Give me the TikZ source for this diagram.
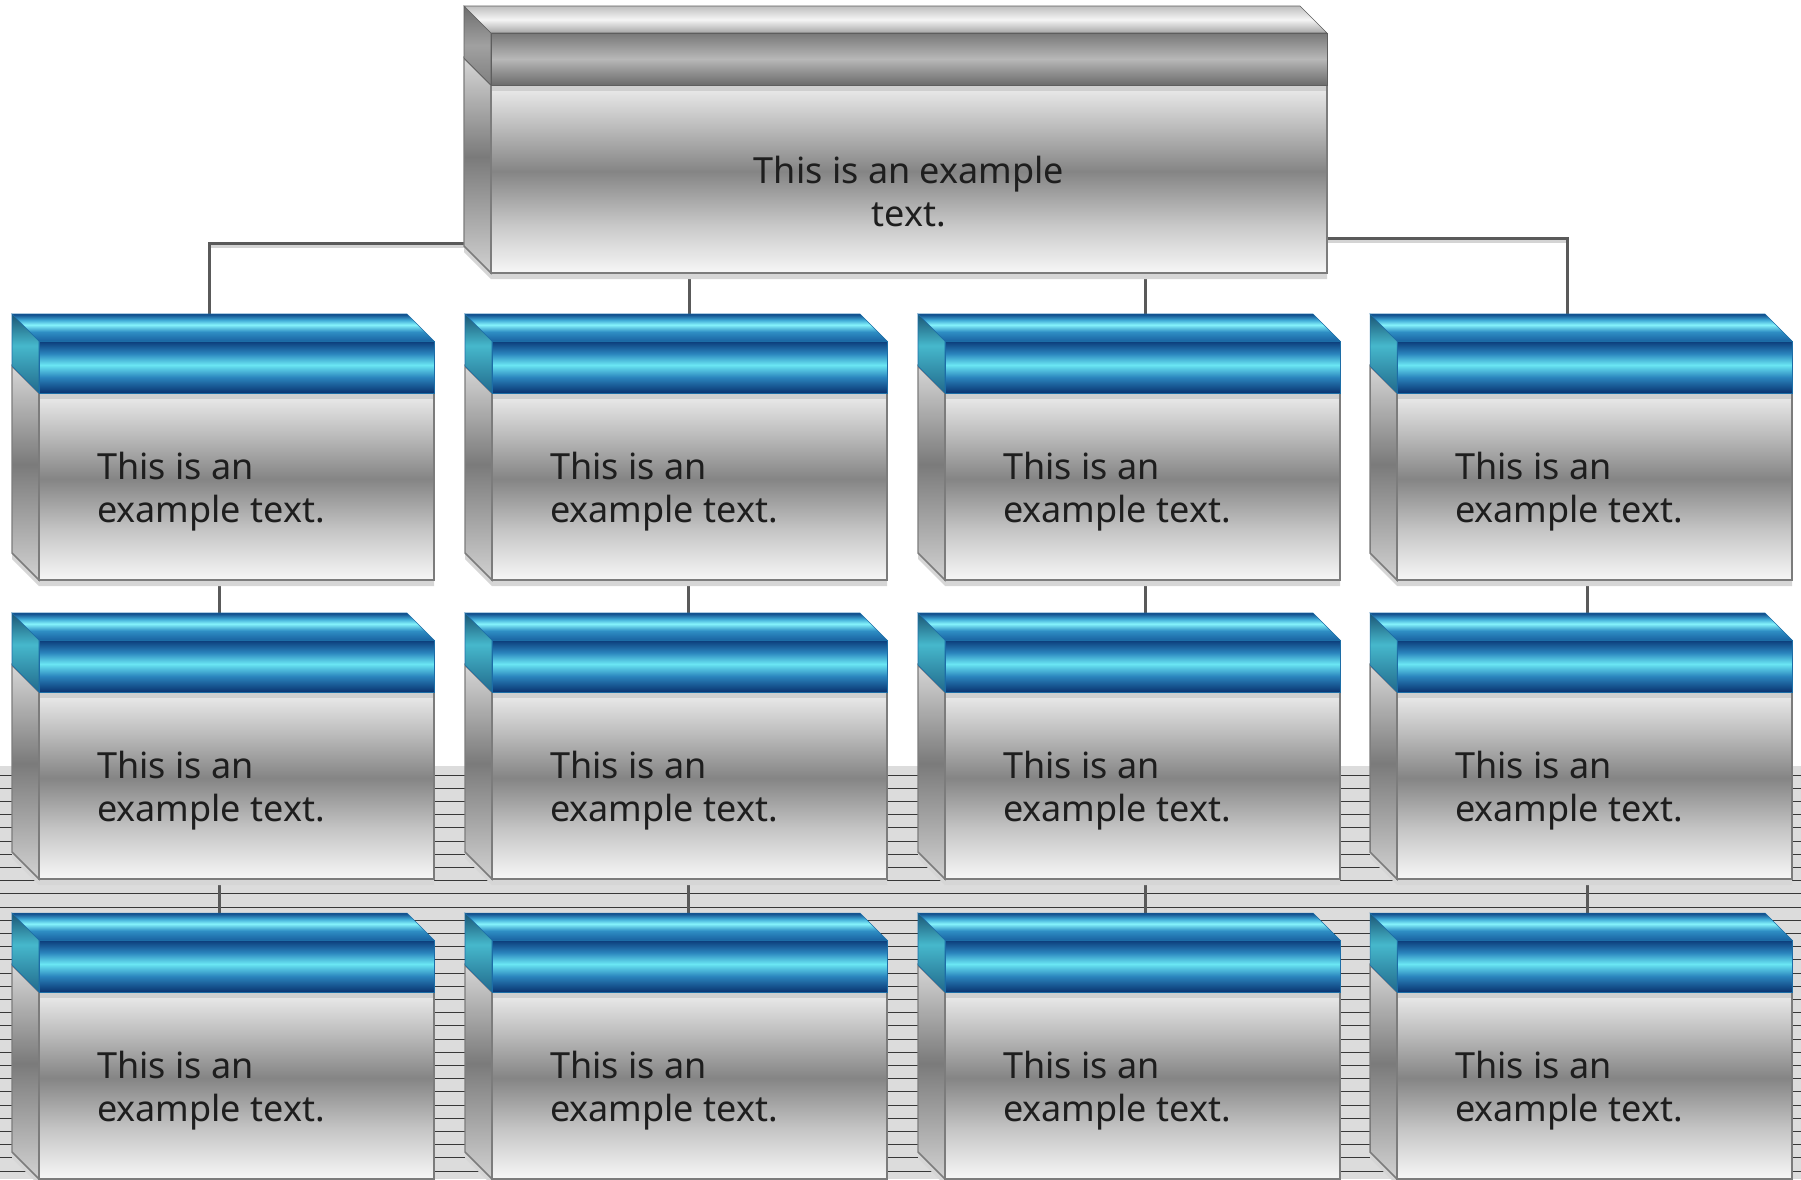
\documentclass[tikz,border=0pt]{standalone}
\usepackage{fontspec}
\usetikzlibrary{fit}
\newfontfamily\cardfont{Noto Sans}

\definecolor{inkgray}{HTML}{1E1E1E}
\definecolor{rimgray}{HTML}{7C7C7C}
\definecolor{blueline}{HTML}{1C6DA6}
\definecolor{steelline}{HTML}{5E5E5E}
\definecolor{linkgray}{HTML}{5A5A5A}
\definecolor{tablegray}{HTML}{DCDCDC}

% metal body
\pgfdeclareverticalshading{bodyfront}{100bp}{color(0bp)=(white!97!black); color(25bp)=(white!97!black);
  color(38bp)=(white!78!black); color(52bp)=(white!52!black); color(64bp)=(white!74!black);
  color(75bp)=(white!93!black); color(100bp)=(white!93!black)}
\pgfdeclareverticalshading{bodyside}{100bp}{color(0bp)=(white!82!black); color(25bp)=(white!82!black);
  color(52bp)=(white!48!black); color(75bp)=(white!84!black); color(100bp)=(white!84!black)}
% blue bands
\pgfdeclareverticalshading{bluefront}{100bp}{color(0bp)=(rgb,255:red,10;green,52;blue,112); color(25bp)=(rgb,255:red,10;green,52;blue,112);
  color(40bp)=(rgb,255:red,42;green,132;blue,189); color(52bp)=(rgb,255:red,106;green,230;blue,243);
  color(63bp)=(rgb,255:red,42;green,132;blue,189); color(75bp)=(rgb,255:red,11;green,58;blue,120); color(100bp)=(rgb,255:red,11;green,58;blue,120)}
\pgfdeclareverticalshading{bluetop}{100bp}{color(0bp)=(rgb,255:red,27;green,100;blue,163); color(25bp)=(rgb,255:red,27;green,100;blue,163);
  color(42bp)=(rgb,255:red,46;green,142;blue,196); color(55bp)=(rgb,255:red,133;green,243;blue,251);
  color(64bp)=(rgb,255:red,63;green,169;blue,214); color(75bp)=(rgb,255:red,14;green,69;blue,133); color(100bp)=(rgb,255:red,14;green,69;blue,133)}
\pgfdeclareverticalshading{blueside}{100bp}{color(0bp)=(rgb,255:red,34;green,106;blue,140); color(25bp)=(rgb,255:red,34;green,106;blue,140);
  color(55bp)=(rgb,255:red,70;green,184;blue,204); color(75bp)=(rgb,255:red,27;green,85;blue,116); color(100bp)=(rgb,255:red,27;green,85;blue,116)}
% steel band
\pgfdeclareverticalshading{steelfront}{100bp}{color(0bp)=(white!42!black); color(25bp)=(white!42!black);
  color(50bp)=(white!72!black); color(75bp)=(white!47!black); color(100bp)=(white!47!black)}
\pgfdeclareverticalshading{steeltop}{100bp}{color(0bp)=(white!65!black); color(25bp)=(white!65!black);
  color(50bp)=(white!96!black); color(75bp)=(white!75!black); color(100bp)=(white!75!black)}
\pgfdeclareverticalshading{steelside}{100bp}{color(0bp)=(white!50!black); color(25bp)=(white!50!black);
  color(50bp)=(white!63!black); color(75bp)=(white!43!black); color(100bp)=(white!43!black)}

\pgfdeclarelayer{bg}
\pgfdeclarelayer{links}
\pgfsetlayers{bg,links,main}

\tikzset{every picture/.style={line width=0.75pt}}
\tikzset{
  cardshadow/.style={fill=black!16},
  bandshadow/.style={fill=white!81!black},
  link/.style={draw=linkgray, line width=2.25pt,
    preaction={draw=black!17, line width=2.25pt, transform canvas={yshift=-2.5pt}}},
  cardtext/.style={anchor=west, align=left, inner sep=0pt, text=inkgray,
    font=\cardfont\fontsize{27}{32.25}\selectfont},
  tableline/.style={draw=black!78, line width=0.75pt}
}

% #1 name, #2 x, #3 y (back top corner), #4 front width, #5 body height, #6 band (blue/steel)
\newcommand{\drawcard}[6]{%
  \fill[cardshadow] (#2,#3+6) -- ++(#4,0) -- ++(27,27) -- ++(0,52+#5) -- ++(-#4,0) -- ++(-27,-27) -- cycle;
  \path[shading=bodyside, draw=rimgray, line width=1.1pt] (#2,#3+52) -- ++(27,27) -- ++(0,#5) -- ++(-27,-27) -- cycle;
  \path[shading=bodyfront, draw=rimgray, line width=1.1pt] (#2+27,#3+79) rectangle ++(#4,#5);
  \fill[bandshadow] (#2+27.6,#3+79) rectangle ++(#4-1.2,6);
  \path[shading=#6side, draw=#6line] (#2,#3) -- ++(27,27) -- ++(0,52) -- ++(-27,-27) -- cycle;
  \path[shading=#6top, draw=#6line] (#2,#3) -- ++(#4,0) -- ++(27,27) -- ++(-#4,0) -- cycle;
  \path[shading=#6front, draw=#6line] (#2+27,#3+27) rectangle ++(#4,52);
  \node[fit={(#2+27,#3+79) (#2+27+#4,#3+79+#5)}, inner sep=0pt] (#1) {};
}

\begin{document}
\begin{tikzpicture}[x=0.75pt,y=0.75pt,yscale=-1,xscale=1]
\useasboundingbox (0,0) rectangle (1801,1179);

% ruled sheet behind the lower rows
\begin{pgfonlayer}{bg}
\fill[tablegray] (0,766) rectangle (1801,1179);
\foreach \k in {0,...,30}
  \draw[tableline] (0,775+13.2*\k) -- (1801,775+13.2*\k);
\end{pgfonlayer}

% Top card
\drawcard{top}{464}{6}{836}{188}{steel}
% Lower cards
\foreach \c/\x in {1/12,2/465,3/918,4/1370}
  \foreach \r/\y in {a/314,b/613,c/913}
    {\drawcard{\r\c}{\x}{\y}{395}{187}{blue}}

% Text Node
\node[cardtext, anchor=center, align=center] (top-t) at ([yshift=9.75pt]top.center) {This is an example\\text.};
% Text Node
\foreach \c in {1,...,4}
  \foreach \r in {a,b,c}
    \node[cardtext] (\r\c-t) at ([xshift=43.5pt,yshift=4pt]\r\c.west) {This is an\\example text.};

% connectors
\begin{pgfonlayer}{links}
\draw[link] ([yshift=-22.5pt]top.south west) -| ([xshift=-20.6pt]a1.north);
\draw[link] ([yshift=-26.25pt]top.south east) -| ([xshift=-19.9pt]a4.north);
\draw[link] (top.south -| a2.north) -- (a2.north);
\draw[link] ([xshift=1.9pt]top.south -| a3.north) -- ([xshift=1.9pt]a3.north);
\foreach \c/\s in {1/-12.4pt,2/-1.1pt,3/1.9pt,4/-4.9pt}
  {\draw[link] ([xshift=\s]a\c.south) -- ([xshift=\s]b\c.north);
   \draw[link] ([xshift=\s]b\c.south) -- ([xshift=\s]c\c.north);}
\end{pgfonlayer}

\end{tikzpicture}
\end{document}
